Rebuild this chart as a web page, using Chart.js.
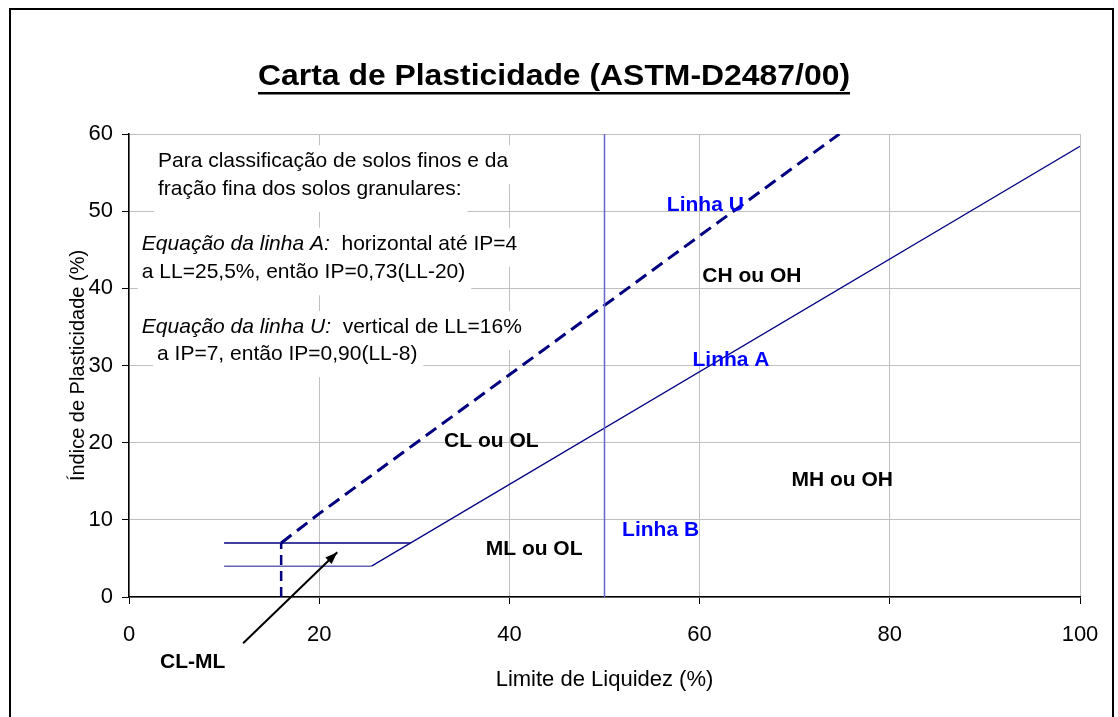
<!DOCTYPE html>
<html>
<head>
<meta charset="utf-8">
<script src="https://cdn.jsdelivr.net/npm/chart.js@4/dist/chart.umd.min.js"></script>
<style>
  html,body{margin:0;padding:0;background:#fff;overflow:hidden}
  canvas{display:block}
</style>
</head>
<body>
<canvas id="plastChart" width="1118" height="717"></canvas>
<script>
const xTicks = [0, 20, 40, 60, 80, 100];
const yTicks = [0, 10, 20, 30, 40, 50, 60];

// Linha U (tracejada)
const lineU_LL = [16, 20, 30, 40, 50, 60, 74.7];
const lineU_IP = [7, 10.8, 19.8, 28.8, 37.8, 46.8, 60];
const lineUvert_LL = [16, 16];
const lineUvert_IP = [0, 7];

// Linha A
const lineAflat_LL = [10, 25.5];
const lineAflat_IP = [4, 4];
const lineA_LL = [25.5, 100];
const lineA_IP = [4, 58.4];

// limite superior da zona CL-ML
const clml_LL = [10, 29.6];
const clml_IP = [7, 7];

// Linha B
const lineB_LL = [50, 50];
const lineB_IP = [0, 60];

// rótulos das zonas (LL, IP, texto)
const zoneNames = ['Linha U', 'CH ou OH', 'Linha A', 'CL ou OL', 'MH ou OH', 'Linha B', 'ML ou OL', 'CL-ML'];
const zoneLL    = [60.6, 65.5, 63.3, 38.1, 75.0, 55.9, 42.6, 6.7];
const zoneIP    = [50.8, 41.6, 30.7, 20.2, 15.2, 8.7, 6.2, -8.5];

const noteLines = [
  ['', 'Para classificação de solos finos e da'],
  ['', 'fração fina dos solos granulares:'],
  ['Equação da linha A:', '  horizontal até IP=4'],
  ['', 'a LL=25,5%, então IP=0,73(LL-20)'],
  ['Equação da linha U:', '  vertical de LL=16%'],
  ['', 'a IP=7, então IP=0,90(LL-8)']
];
const noteLL = [3.05, 3.05, 1.35, 1.35, 1.35, 2.95];
const noteIP = [55.7, 52.1, 45.0, 41.3, 34.2, 30.7];

const FONT = "'Liberation Sans', Arial, sans-serif";
const NOTE_PX = 21;

function pts(xs, ys){ return xs.map((x,i)=>({x, y:ys[i]})); }

function seg(xs, ys, color, width, dash){
  return { data: pts(xs, ys), showLine:true, pointRadius:0, borderColor:color,
           borderWidth:width, borderDash:dash||[], fill:false, tension:0 };
}

/* ---- plugin: moldura, título, textos ---- */
const decor = {
  id:'decor',
  beforeDraw(chart){
    const c = chart.ctx;
    c.save();
    c.fillStyle = '#fff';
    c.fillRect(0,0,chart.width,chart.height);
    c.strokeStyle = '#000'; c.lineWidth = 2;
    c.strokeRect(10, 9, 1103, 740);
    c.restore();
  },
  afterDatasetsDraw(chart){
    const c = chart.ctx, sx = chart.scales.x, sy = chart.scales.y;
    c.save();
    // bloco de notas
    noteLines.forEach(([it, rest], i)=>{
      const px = sx.getPixelForValue(noteLL[i]), py = sy.getPixelForValue(noteIP[i]);
      c.font = 'italic ' + NOTE_PX + 'px ' + FONT;
      const w1 = it ? c.measureText(it).width : 0;
      c.font = NOTE_PX + 'px ' + FONT;
      const w2 = c.measureText(rest).width;
      c.fillStyle = '#fff';
      c.fillRect(px - 4, py - 22, w1 + w2 + 10, 39);
    });
    noteLines.forEach(([it, rest], i)=>{
      const px = sx.getPixelForValue(noteLL[i]), py = sy.getPixelForValue(noteIP[i]);
      c.fillStyle = '#000'; c.textBaseline = 'alphabetic'; c.textAlign = 'left';
      let w1 = 0;
      if (it){ c.font = 'italic ' + NOTE_PX + 'px ' + FONT; c.fillText(it, px, py); w1 = c.measureText(it).width; }
      c.font = NOTE_PX + 'px ' + FONT;
      c.fillText(rest, px + w1, py);
    });
    // rótulos das zonas
    c.font = 'bold 21px ' + FONT;
    c.textAlign = 'center'; c.textBaseline = 'middle';
    zoneNames.forEach((t,i)=>{
      c.fillStyle = t.startsWith('Linha') ? '#0000ff' : '#000';
      c.fillText(t, sx.getPixelForValue(zoneLL[i]), sy.getPixelForValue(zoneIP[i]));
    });
    // seta CL-ML
    const x0 = sx.getPixelForValue(12.0), y0 = sy.getPixelForValue(-6.0);
    const x1 = sx.getPixelForValue(21.9), y1 = sy.getPixelForValue(5.8);
    c.strokeStyle = '#000'; c.lineWidth = 2;
    c.beginPath(); c.moveTo(x0,y0); c.lineTo(x1,y1); c.stroke();
    const a = Math.atan2(y1-y0, x1-x0), L = 13;
    c.fillStyle = '#000';
    c.beginPath();
    c.moveTo(x1, y1);
    c.lineTo(x1 - L*Math.cos(a-0.35), y1 - L*Math.sin(a-0.35));
    c.lineTo(x1 - L*Math.cos(a+0.35), y1 - L*Math.sin(a+0.35));
    c.closePath(); c.fill();
    // título (largura ajustada à da figura)
    const title = 'Carta de Plasticidade (ASTM-D2487/00)';
    c.font = 'bold 29px ' + FONT;
    c.textAlign = 'left'; c.textBaseline = 'alphabetic';
    const tw = c.measureText(title).width, target = 592, tx = 554 - target/2;
    c.save();
    c.translate(tx, 85);
    c.scale(target/tw, 1);
    c.fillText(title, 0, 0);
    c.restore();
    c.fillRect(tx, 92, target, 2.5);
    c.restore();
  }
};

new Chart(document.getElementById('plastChart'), {
  type:'scatter',
  data:{ datasets:[
    seg(lineB_LL, lineB_IP, '#6666cc', 1.5),
    seg(lineAflat_LL, lineAflat_IP, '#6464b4', 1.5),
    seg(lineA_LL, lineA_IP, '#000080', 1.2),
    seg(clml_LL, clml_IP, '#000080', 1.5),
    seg(lineUvert_LL, lineUvert_IP, '#000080', 2.5, [10,6]),
    seg(lineU_LL, lineU_IP, '#000080', 3, [13,7])
  ]},
  options:{
    responsive:false, animation:false,
    layout:{ padding:{ left:66, top:134, right:38, bottom:20 } },
    plugins:{ legend:{display:false}, tooltip:{enabled:false} },
    scales:{
      x:{
        type:'linear', min:0, max:100,
        afterBuildTicks: s => { s.ticks = xTicks.map(v=>({value:v})); },
        afterFit: s => { s.height = 100; },
        ticks:{ color:'#000', font:{family:FONT, size:22}, padding:18 },
        grid:{ color:'#c0c0c0', tickColor:'#000', tickLength:7, lineWidth:1 },
        border:{ color:'#000', width:1.5 },
        title:{ display:true, text:'Limite de Liquidez (%)', color:'#000',
                font:{family:FONT, size:22}, padding:{top:4, bottom:4} }
      },
      y:{
        type:'linear', min:0, max:60,
        afterBuildTicks: s => { s.ticks = yTicks.map(v=>({value:v})); },
        afterFit: s => { s.width = 63; },
        ticks:{ color:'#000', font:{family:FONT, size:22}, padding:9 },
        grid:{ color:'#c0c0c0', tickColor:'#000', tickLength:7, lineWidth:1 },
        border:{ color:'#000', width:1.5 },
        title:{ display:true, text:'Índice de Plasticidade (%)', color:'#000',
                font:{family:FONT, size:20}, padding:{top:0, bottom:0} }
      }
    }
  },
  plugins:[decor]
});
</script>
</body>
</html>
